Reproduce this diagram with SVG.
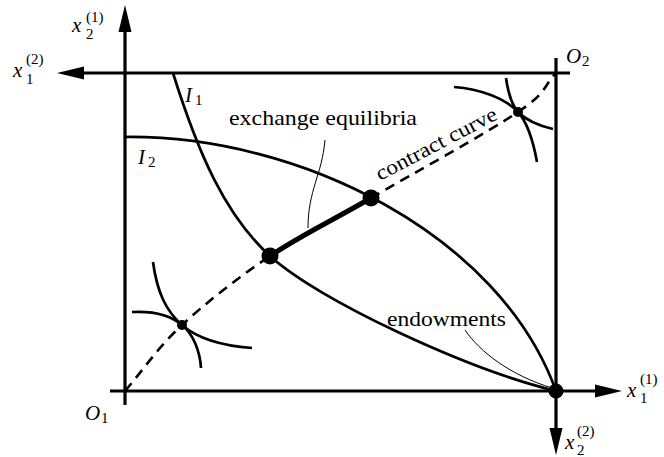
<svg xmlns="http://www.w3.org/2000/svg" width="664" height="457" viewBox="0 0 664 457">
<style>
.ax{stroke:#000;stroke-width:3.2;fill:none}
.cv{stroke:#000;stroke-width:2.7;fill:none}
.ds{stroke:#000;stroke-width:2.6;fill:none;stroke-dasharray:10 7}
.ld{stroke:#000;stroke-width:1;fill:none}
.t{font-size:21px;fill:#000}
.m{font-style:italic;font-size:21px;fill:#000}
.s{font-size:15px;fill:#000}
</style>
<rect width="664" height="457" fill="#fff"/>
<g id="axes">
<line class="ax" x1="125" y1="405" x2="125" y2="30"/>
<polygon points="125,5 118.5,32 131.5,32"/>
<line class="ax" x1="570" y1="73" x2="80" y2="73"/>
<polygon points="57,73 84,66.5 84,79.5"/>
<line class="ax" x1="110" y1="391" x2="598" y2="391"/>
<polygon points="622,391 595,384.5 595,397.5"/>
<line class="ax" x1="556" y1="58" x2="556" y2="430"/>
<polygon points="556,455 549.5,428 562.5,428"/>
</g>
<g id="connectors">
<path id="contract" class="ds" d="M125,391 C144,369 157.8,347.5 182,325 C206.2,302.5 238.5,277.2 270,256 M371,198 C412.3,174 487.2,132.8 518,112 C548.8,91.2 543.3,86 556,73"/>
<path id="equilibria-seg" d="M270,256 C301.5,234.8 329.7,222 371,198" stroke="#000" stroke-width="5" fill="none"/>
<path id="I1" class="cv" d="M173,73 C198,153 225,215 270,256 C318,300 466,369 556,391"/>
<path id="I2" class="cv" d="M125,137 C300,135 500,235 556,391"/>
<path class="cv" d="M153,262 C157,292 166,311 182,325 C198,339 225,346 252,348"/>
<path class="cv" d="M132,312 C150,311 168,313 182,325 C194,335 200,352 201,368"/>
<path class="cv" d="M506,78 C508,92 511,104 518,112 C527,121 540,126 553,129"/>
<path class="cv" d="M454,87 C480,89 505,98 518,112 C527,122 533,140 537,162"/>
<path id="lead-eq" class="ld" d="M325,140 C322,175 308,190 308,228"/>
<path id="lead-end" class="ld" d="M465,330 C480,352 510,375 552,388"/>
</g>
<g id="endowment"><circle cx="556" cy="391" r="7.5"/></g>
<g id="eq1"><circle cx="270" cy="256" r="8.5"/></g>
<g id="eq2"><circle cx="371" cy="198" r="8.5"/></g>
<g id="tan1"><circle cx="182" cy="325" r="5"/></g>
<g id="tan2"><circle cx="518" cy="112" r="5"/></g>
<g id="labels" font-family="'Liberation Serif', 'Times New Roman', Times, 'DejaVu Serif', serif">
<text class="t" x="229" y="125" textLength="188" lengthAdjust="spacingAndGlyphs">exchange equilibria</text>
<text class="t" x="387" y="326" textLength="119" lengthAdjust="spacingAndGlyphs">endowments</text>
<text class="t" transform="translate(380,181) rotate(-27.7)" textLength="134" lengthAdjust="spacingAndGlyphs">contract curve</text>
<text class="m" x="185" y="102">I</text><text class="s" x="195" y="105">1</text>
<text class="m" x="138" y="164">I</text><text class="s" x="148" y="167">2</text>
<text class="m" x="566" y="63">O</text><text class="s" x="582" y="66">2</text>
<text class="m" x="85" y="420">O</text><text class="s" x="101" y="423">1</text>
<text class="m" x="72" y="32">x</text><text class="s" x="86" y="39">2</text><text class="s" x="86" y="22">(1)</text>
<text class="m" x="13" y="77">x</text><text class="s" x="26" y="84">1</text><text class="s" x="26" y="64">(2)</text>
<text class="m" x="627" y="397">x</text><text class="s" x="640" y="403">1</text><text class="s" x="640" y="384">(1)</text>
<text class="m" x="565" y="449">x</text><text class="s" x="577" y="455">2</text><text class="s" x="577" y="436">(2)</text>
</g>
</svg>
